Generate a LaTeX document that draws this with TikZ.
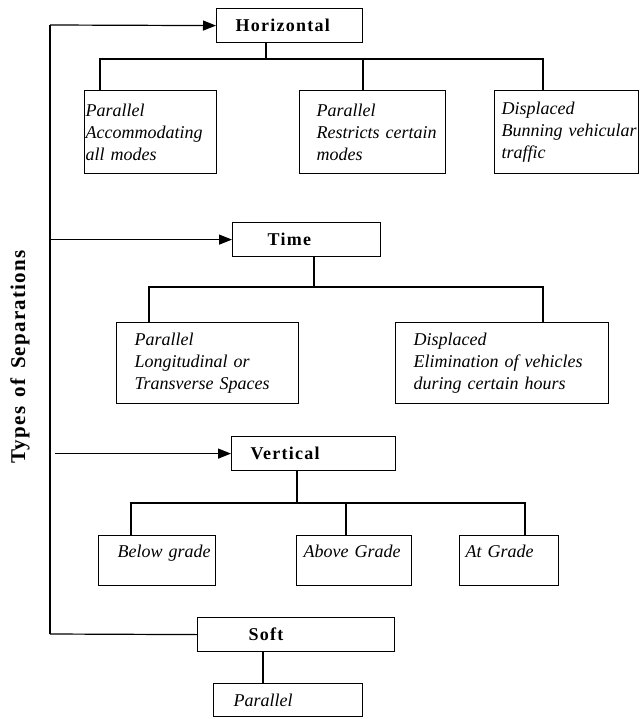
\documentclass[tikz,border=0pt]{standalone}
\usepackage{fontspec}
\setmainfont{Liberation Serif}
\newfontfamily\hdfam{Liberation Serif}[LetterSpace=7]
\newfontfamily\lblfam{Liberation Serif}[LetterSpace=6]
\usetikzlibrary{arrows.meta}
\newcommand{\itf}{\fontsize{18}{22}\selectfont\itshape}
\newcommand{\hdf}{\hdfam\fontsize{18}{22}\selectfont\bfseries}
\newcommand{\lblf}{\lblfam\fontsize{21}{25}\selectfont\bfseries}
\newcommand{\indl}[2]{\raggedright\leftskip=#1\relax #2\par}
\tikzset{
  bx/.style={draw, line width=1.2pt, rectangle, inner xsep=0pt, inner ysep=0pt, anchor=north west},
  it/.style={font=\itf},
  hd/.style={font=\hdf},
  ln/.style={line width=1.2pt},
  arr/.style={line width=1.2pt, -{Triangle[length=13pt,width=10pt]}}
}
\begin{document}
\begin{tikzpicture}[x=1pt,y=-1pt]
\useasboundingbox (0,0) rectangle (639,719);
% label
\node[rotate=90, font=\lblf, inner sep=0] (lab) at (20,357) {Types\hspace{3pt} of\hspace{3pt} Separations};
% heads
\node[bx, hd, text width=146pt, minimum height=34pt] (H) at (216,8) {\indl{19pt}{Horizontal}};
\node[bx, hd, text width=148pt, minimum height=34pt] (T) at (232,222) {\indl{35pt}{Time}};
\node[bx, hd, text width=164pt, minimum height=34pt] (V) at (231,436) {\indl{19pt}{Vertical}};
\node[bx, hd, text width=197pt, minimum height=34pt] (S) at (197,617) {\indl{51pt}{Soft}};
% horizontal children
\node[bx, it, text width=132pt, minimum height=83pt] (h1) at (84,90) {\indl{1pt}{Parallel\\Accommodating\\all modes}};
\node[bx, it, text width=146pt, minimum height=83pt] (h2) at (299,90) {\indl{17pt}{Parallel\\Restricts certain\\modes}};
\node[bx, it, text width=144pt, minimum height=83pt] (h3) at (494,90) {\indl{7pt}{Displaced\\Bunning vehicular\\traffic}};
% time children
\node[bx, it, text width=182pt, minimum height=81pt] (t1) at (116,322) {\indl{18pt}{Parallel\\Longitudinal or\\Transverse Spaces}};
\node[bx, it, text width=213pt, minimum height=81pt] (t2) at (395,322) {\indl{18pt}{Displaced\\Elimination of vehicles\\during certain hours}};
% vertical children
\node[bx, it, text width=117pt, text height=22pt, text depth=28pt] (v1) at (98,535) {\indl{19pt}{Below grade}};
\node[bx, it, text width=115pt, text height=22pt, text depth=28pt] (v2) at (296,535) {\indl{7pt}{Above Grade}};
\node[bx, it, text width=99pt, text height=22pt, text depth=28pt] (v3) at (459,535) {\indl{6pt}{At Grade}};
% soft child
\node[bx, it, text width=149pt, minimum height=33pt] (s1) at (213,683) {\indl{20pt}{Parallel}};
% spine
\coordinate (spTop) at (50,25);
\coordinate (spBot) at (50,634);
\draw[ln] (spTop) -- (spBot);
\draw[arr] (spTop) -- (H.west);
\draw[arr] (T.west -| spTop) -- (T.west);
\draw[arr] ([xshift=5pt]V.west -| spTop) -- (V.west);
\draw[ln] (spBot) -- (S.west);
% horizontal tree
\coordinate (hb) at (266,59);
\draw[ln] ([xshift=50pt]H.south west) -- (hb);
\draw[ln] ([xshift=16pt]h1.north west) |- (hb);
\draw[ln] ([xshift=49pt]h3.north west) |- (hb);
\draw[ln] ([xshift=64pt]h2.north west) |- (hb);
% time tree
\coordinate (tb) at (314,287);
\draw[ln] ([xshift=82pt]T.south west) -- (tb);
\draw[ln] ([xshift=33pt]t1.north west) |- (tb);
\draw[ln] ([xshift=148pt]t2.north west) |- (tb);
% vertical tree
\coordinate (vb) at (297,503);
\draw[ln] ([xshift=66pt]V.south west) -- (vb);
\draw[ln] ([xshift=33pt]v1.north west) |- (vb);
\draw[ln] ([xshift=66pt]v3.north west) |- (vb);
\draw[ln] ([xshift=50pt]v2.north west) |- (vb);
% soft tree
\draw[ln] ([xshift=66pt]S.south west) -- ([xshift=50pt]s1.north west);
\end{tikzpicture}
\end{document}
